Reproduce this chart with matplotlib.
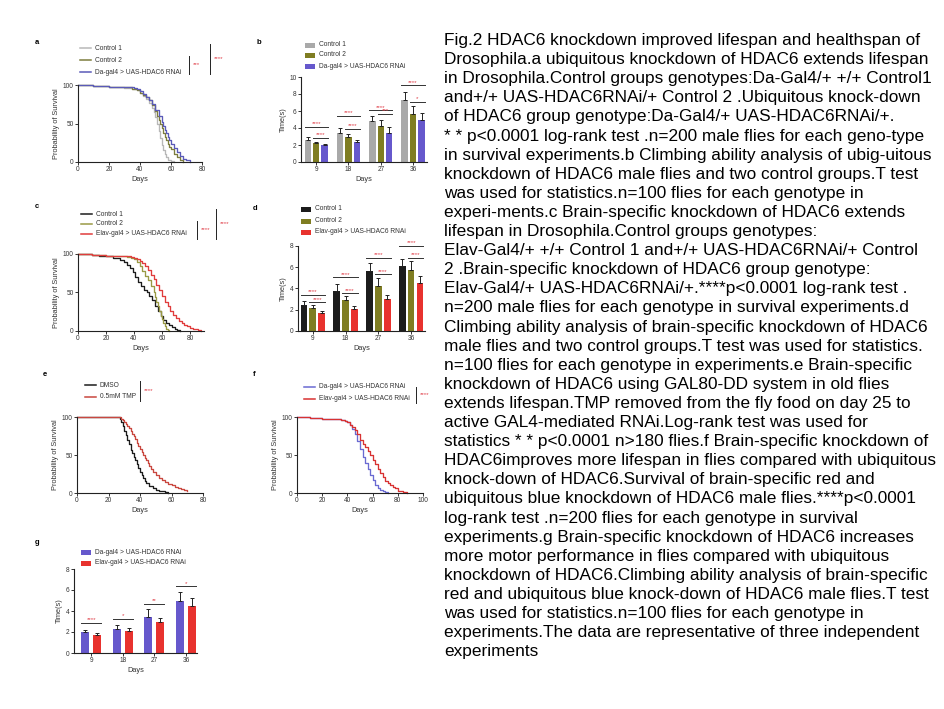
import matplotlib
matplotlib.use("Agg")
import matplotlib.pyplot as plt
from matplotlib.lines import Line2D
from matplotlib.patches import Rectangle
import numpy as np

plt.rcParams['font.family'] = ['Liberation Sans', 'DejaVu Sans']

# --- данные: кривые выживания (день, % живых) ---
a_c1_days = [0, 10, 20, 25, 30, 35, 38, 40, 42, 44, 46, 48, 49, 50, 51, 52, 53, 54, 55, 56, 57, 58, 60, 62]
a_c1_surv = [100, 99, 98, 97, 96, 95, 93, 90, 86, 82, 77, 70, 65, 58, 50, 40, 31, 22, 15, 10, 6, 3, 1, 0]
a_c2_days = [0, 10, 20, 30, 35, 38, 40, 42, 44, 46, 48, 50, 51, 52, 53, 54, 55, 56, 57, 58, 59, 60, 62, 64, 66, 68]
a_c2_surv = [100, 99, 98, 97, 95, 93, 90, 87, 84, 80, 74, 66, 60, 54, 49, 44, 38, 33, 28, 24, 20, 17, 11, 6, 2, 0]
a_da_days = [0, 10, 20, 30, 36, 38, 40, 42, 44, 46, 48, 50, 52, 54, 55, 56, 57, 58, 59, 60, 62, 64, 66, 68, 70, 72]
a_da_surv = [100, 99, 98, 97, 96, 95, 92, 88, 84, 80, 75, 68, 60, 52, 47, 42, 38, 33, 28, 24, 18, 13, 8, 4, 2, 0]

c_c1_days = [0, 10, 15, 20, 25, 30, 33, 35, 37, 39, 41, 43, 45, 47, 49, 51, 53, 55, 57, 59, 61, 63, 65, 67, 69, 71, 73]
c_c1_surv = [100, 99, 98, 97, 95, 92, 90, 86, 82, 76, 70, 64, 58, 53, 50, 46, 40, 33, 26, 20, 14, 11, 8, 5, 3, 1, 0]
c_c2_days = [0, 10, 20, 30, 35, 38, 40, 42, 44, 46, 48, 50, 52, 54, 55, 56, 57, 58, 59, 60, 61, 62, 63, 64, 65]
c_c2_surv = [100, 99, 98, 97, 96, 95, 93, 90, 85, 78, 72, 66, 58, 50, 44, 38, 32, 26, 20, 15, 10, 6, 3, 1, 0]
c_el_days = [0, 10, 20, 30, 35, 38, 40, 42, 44, 46, 48, 50, 52, 54, 56, 58, 60, 62, 64, 66, 68, 70, 72, 74, 76, 78, 80, 82, 84, 86, 88]
c_el_surv = [100, 99, 98, 98, 97, 96, 95, 93, 91, 88, 84, 79, 73, 67, 60, 53, 45, 38, 32, 26, 21, 17, 13, 10, 8, 6, 4, 3, 2, 1, 0]

e_dmso_days = [0, 26, 27, 28, 29, 30, 31, 32, 33, 34, 35, 36, 37, 38, 39, 40, 41, 42, 43, 44, 46, 48, 50, 52, 54, 56, 58]
e_dmso_surv = [100, 100, 97, 93, 88, 82, 76, 70, 64, 57, 52, 47, 43, 38, 33, 28, 24, 20, 16, 13, 9, 6, 4, 3, 2, 1, 0]
e_tmp_days = [0, 27, 28, 29, 30, 31, 32, 33, 34, 35, 36, 37, 38, 39, 40, 41, 42, 43, 44, 45, 46, 47, 48, 50, 52, 54, 56, 58, 60, 62, 64, 66, 68, 70]
e_tmp_surv = [100, 100, 98, 96, 94, 91, 88, 85, 82, 78, 75, 71, 66, 62, 58, 54, 50, 46, 43, 39, 35, 32, 28, 24, 20, 17, 14, 12, 10, 8, 6, 5, 4, 3]

f_da_days = [0, 5, 10, 15, 20, 25, 30, 35, 38, 40, 42, 44, 46, 48, 50, 52, 54, 56, 58, 60, 62, 64, 66, 68, 70, 72]
f_da_surv = [100, 99.5, 99, 98.5, 98, 97.5, 97, 96.5, 95, 93, 89, 84, 77, 68, 58, 48, 40, 32, 24, 17, 11, 7, 4, 2, 1, 0]
f_el_days = [0, 5, 10, 15, 20, 25, 30, 35, 38, 40, 42, 44, 46, 48, 50, 52, 54, 56, 58, 60, 62, 64, 66, 68, 70, 72, 74, 76, 78, 80, 82, 84, 87]
f_el_surv = [100, 99.5, 99, 98.5, 98, 97.5, 97, 96.5, 95, 93, 90, 87, 83, 78, 70, 64, 60, 55, 50, 44, 38, 32, 26, 21, 16, 13, 10, 8, 6, 3, 2, 1, 0]

# --- данные: тест на подъём (время, с) ---
days_cat = ["9", "18", "27", "36"]
b_c1 = [2.6, 3.4, 4.8, 7.3]
b_c1_err = [0.35, 0.55, 0.6, 0.9]
b_c2 = [2.2, 2.9, 4.2, 5.7]
b_c2_err = [0.2, 0.35, 0.8, 0.9]
b_da = [2.0, 2.3, 3.4, 5.0]
b_da_err = [0.15, 0.3, 0.75, 0.75]
b_sig_all = [4.15, 5.45, 6.1, 9.05]
b_sig_all_lab = ["****", "****", "****", "****"]
b_sig_two = [2.85, 3.9, 5.7, 7.1]
b_sig_two_lab = ["****", "****", "***", "*"]

d_c1 = [2.4, 3.8, 5.6, 6.1]
d_c1_err = [0.4, 0.6, 0.8, 0.7]
d_c2 = [2.2, 2.9, 4.2, 5.7]
d_c2_err = [0.25, 0.4, 0.8, 0.9]
d_el = [1.7, 2.1, 3.0, 4.5]
d_el_err = [0.2, 0.25, 0.35, 0.7]
d_sig_all = [3.4, 5.05, 6.9, 8.0]
d_sig_two = [2.7, 3.55, 5.35, 6.9]

g_da = [2.0, 2.3, 3.4, 5.0]
g_da_err = [0.2, 0.35, 0.75, 0.8]
g_el = [1.7, 2.1, 3.0, 4.5]
g_el_err = [0.2, 0.25, 0.35, 0.7]
g_sig = [2.9, 3.25, 4.7, 6.35]
g_sig_lab = ["****", "*", "**", "*"]

caption = [
    "Fig.2 HDAC6 knockdown improved lifespan and healthspan of",
    "Drosophila.a ubiquitous knockdown of HDAC6 extends lifespan",
    "in Drosophila.Control groups genotypes:Da-Gal4/+ +/+ Control1",
    "and+/+ UAS-HDAC6RNAi/+ Control 2 .Ubiquitous knock-down",
    "of HDAC6 group genotype:Da-Gal4/+ UAS-HDAC6RNAi/+.",
    "* * p<0.0001 log-rank test .n=200 male flies for each geno-type",
    "in survival experiments.b Climbing ability analysis of ubig-uitous",
    "knockdown of HDAC6 male flies and two control groups.T test",
    "was used for statistics.n=100 flies for each genotype in",
    "experi-ments.c Brain-specific knockdown of HDAC6 extends",
    "lifespan in Drosophila.Control groups genotypes:",
    "Elav-Gal4/+ +/+ Control 1 and+/+ UAS-HDAC6RNAi/+ Control",
    "2 .Brain-specific knockdown of HDAC6 group genotype:",
    "Elav-Gal4/+ UAS-HDAC6RNAi/+.****p<0.0001 log-rank test .",
    "n=200 male flies for each genotype in survival experiments.d",
    "Climbing ability analysis of brain-specific knockdown of HDAC6",
    "male flies and two control groups.T test was used for statistics.",
    "n=100 flies for each genotype in experiments.e Brain-specific",
    "knockdown of HDAC6 using GAL80-DD system in old flies",
    "extends lifespan.TMP removed from the fly food on day 25 to",
    "active GAL4-mediated RNAi.Log-rank test was used for",
    "statistics * * p<0.0001 n>180 flies.f Brain-specific knockdown of",
    "HDAC6improves more lifespan in flies compared with ubiquitous",
    "knock-down of HDAC6.Survival of brain-specific red and",
    "ubiquitous blue knockdown of HDAC6 male flies.****p<0.0001",
    "log-rank test .n=200 flies for each genotype in survival",
    "experiments.g Brain-specific knockdown of HDAC6 increases",
    "more motor performance in flies compared with ubiquitous",
    "knockdown of HDAC6.Climbing ability analysis of brain-specific",
    "red and ubiquitous blue knock-down of HDAC6 male flies.T test",
    "was used for statistics.n=100 flies for each genotype in",
    "experiments.The data are representative of three independent",
    "experiments",
]

# цвета
GRAY = '#a9a9a9'
OLIVE = '#7f7d22'
BLUE = '#6658cc'
RED = '#e8322e'
BLACK = '#1c1c1c'
STAR = '#e0404a'
TXT = '#333333'

W, H = 945, 709
fig = plt.figure(figsize=(W / 100, H / 100), dpi=100)


def fx(x):
    return x / W


def fy(y):
    return 1 - y / H


def add_ax(l, t, r, b):
    return fig.add_axes([fx(l), fy(b), (r - l) / W, (b - t) / H])


def style(ax):
    ax.spines['top'].set_visible(False)
    ax.spines['right'].set_visible(False)
    for s in ['left', 'bottom']:
        ax.spines[s].set_linewidth(0.8)
        ax.spines[s].set_color('#222')
    ax.tick_params(labelsize=4.7, length=2, width=0.7, pad=1.2, colors=TXT)


def legend_rows(x, ys, labels, colors, kind='line'):
    for y, lab, c in zip(ys, labels, colors):
        if kind == 'line':
            fig.add_artist(Line2D([fx(x), fx(x + 11)], [fy(y), fy(y)], color=c, lw=1.1))
            tx = x + 15
        else:
            fig.add_artist(Rectangle((fx(x), fy(y + 2.5)), 10 / W, 5 / H, color=c, lw=0))
            tx = x + 14
        fig.text(fx(tx), fy(y), lab, fontsize=4.8, va='center', ha='left', color=TXT)


def bracket(x, y1, y2, lab):
    fig.add_artist(Line2D([fx(x), fx(x)], [fy(y1), fy(y2)], color='#222', lw=0.7))
    fig.text(fx(x + 4), fy((y1 + y2) / 2), lab, fontsize=4.5, color=STAR, va='center', ha='left')


def survival(ax, curves, xmax, xticks):
    for d, s, c in curves:
        ax.step(d, s, where='post', color=c, lw=0.95, clip_on=False)
    ax.set_xlim(0, xmax)
    ax.set_ylim(0, 100)
    ax.set_xticks(xticks)
    ax.set_yticks([0, 50, 100])
    style(ax)
    ax.set_xlabel('Days', fontsize=5.3, labelpad=2, color=TXT)
    ax.set_ylabel('Probability of Survival', fontsize=5.3, labelpad=2, color=TXT)


def sig(ax, x1, x2, y, lab):
    ax.plot([x1, x2], [y, y], color='#333', lw=0.7, clip_on=False)
    ax.text((x1 + x2) / 2, y + 0.05, lab, fontsize=4.5, color=STAR, ha='center', va='bottom')


def bar_style(ax, ymax, xlim):
    ax.set_ylim(0, ymax)
    ax.set_yticks(np.arange(0, ymax + 1, 2))
    ax.set_xlim(*xlim)
    ax.set_xticks(range(len(days_cat)))
    ax.set_xticklabels(days_cat)
    style(ax)
    ax.set_xlabel('Days', fontsize=5.3, labelpad=2, color=TXT)
    ax.set_ylabel('Time(s)', fontsize=5.3, labelpad=2, color=TXT)


x = np.arange(len(days_cat))
ekw = dict(elinewidth=0.7, capsize=1.4, capthick=0.7, ecolor='#222')

# --- a ---
ax = add_ax(78, 85, 202, 162)
survival(ax, [(a_c1_days, a_c1_surv, '#b8b8b8'), (a_c2_days, a_c2_surv, '#7d7d3e'),
              (a_da_days, a_da_surv, '#5a5ab8')], 80, [0, 20, 40, 60, 80])
legend_rows(80, [48, 60, 72], ['Control 1', 'Control 2', 'Da-gal4 > UAS-HDAC6 RNAi'],
            ['#b8b8b8', '#7d7d3e', '#5a5ab8'])
bracket(189, 56, 74, '***')
bracket(210, 44, 74, '****')

# --- b ---
ax = add_ax(301, 77, 427, 162)
w, off = 0.2, 0.26
ax.bar(x - off, b_c1, w, color=GRAY, yerr=[np.zeros(4), b_c1_err], error_kw=ekw)
ax.bar(x, b_c2, w, color=OLIVE, yerr=[np.zeros(4), b_c2_err], error_kw=ekw)
ax.bar(x + off, b_da, w, color=BLUE, yerr=[np.zeros(4), b_da_err], error_kw=ekw)
for i in range(4):
    sig(ax, i - off - w / 2, i + off + w / 2, b_sig_all[i], b_sig_all_lab[i])
    sig(ax, i - w / 2, i + off + w / 2, b_sig_two[i], b_sig_two_lab[i])
bar_style(ax, 10, (-0.47, 3.43))
legend_rows(305, [45, 55, 66], ['Control 1', 'Control 2', 'Da-gal4 > UAS-HDAC6 RNAi'],
            [GRAY, OLIVE, BLUE], kind='rect')

# --- c ---
ax = add_ax(78, 254, 204, 331)
survival(ax, [(c_c1_days, c_c1_surv, BLACK), (c_c2_days, c_c2_surv, '#9a9a45'),
              (c_el_days, c_el_surv, '#e03c3c')], 90, [0, 20, 40, 60, 80])
legend_rows(81, [214, 224, 234], ['Control 1', 'Control 2', 'Elav-gal4 > UAS-HDAC6 RNAi'],
            [BLACK, '#9a9a45', '#e03c3c'])
bracket(197, 221, 239, '****')
bracket(216, 209, 239, '****')

# --- d ---
ax = add_ax(298, 246, 425, 331)
w, off = 0.2, 0.27
ax.bar(x - off, d_c1, w, color=BLACK, yerr=[np.zeros(4), d_c1_err], error_kw=ekw)
ax.bar(x, d_c2, w, color=OLIVE, yerr=[np.zeros(4), d_c2_err], error_kw=ekw)
ax.bar(x + off, d_el, w, color=RED, yerr=[np.zeros(4), d_el_err], error_kw=ekw)
for i in range(4):
    sig(ax, i - off - w / 2, i + off + w / 2, d_sig_all[i], '****')
    sig(ax, i - w / 2, i + off + w / 2, d_sig_two[i], '****')
bar_style(ax, 8, (-0.45, 3.42))
legend_rows(301, [209, 221, 232], ['Control 1', 'Control 2', 'Elav-gal4 > UAS-HDAC6 RNAi'],
            [BLACK, OLIVE, RED], kind='rect')

# --- e ---
ax = add_ax(77, 417, 203, 493)
survival(ax, [(e_dmso_days, e_dmso_surv, BLACK), (e_tmp_days, e_tmp_surv, '#c9473f')],
         80, [0, 20, 40, 60, 80])
legend_rows(85, [385, 397], ['DMSO', '0.5mM TMP'], [BLACK, '#c9473f'])
bracket(140, 381, 401, '****')

# --- f ---
ax = add_ax(297, 417, 423, 493)
survival(ax, [(f_da_days, f_da_surv, '#6a6ad2'), (f_el_days, f_el_surv, '#d83232')],
         100, [0, 20, 40, 60, 80, 100])
legend_rows(304, [387, 399], ['Da-gal4 > UAS-HDAC6 RNAi', 'Elav-gal4 > UAS-HDAC6 RNAi'],
            ['#6a6ad2', '#d83232'])
bracket(416, 387, 403, '****')

# --- g ---
ax = add_ax(74, 569, 197, 653)
w, off = 0.25, 0.19
ax.bar(x - off, g_da, w, color=BLUE, yerr=[np.zeros(4), g_da_err], error_kw=ekw)
ax.bar(x + off, g_el, w, color=RED, yerr=[np.zeros(4), g_el_err], error_kw=ekw)
for i in range(4):
    sig(ax, i - off - w / 2, i + off + w / 2, g_sig[i], g_sig_lab[i])
bar_style(ax, 8, (-0.55, 3.35))
legend_rows(81, [552, 563], ['Da-gal4 > UAS-HDAC6 RNAi', 'Elav-gal4 > UAS-HDAC6 RNAi'],
            [BLUE, RED], kind='rect')

# буквы панелей
for lab, (px, py) in zip('abcdefg', [(35, 43), (257, 43), (35, 207), (253, 208),
                                     (43, 375), (253, 375), (35, 543)]):
    fig.text(fx(px), fy(py), lab, fontsize=5.5, fontweight='bold', va='center', ha='left')

# подпись справа
for i, line in enumerate(caption):
    fig.text(fx(444), fy(45 + 19.1 * i), line, fontsize=12.4, va='baseline', ha='left', color='black')

fig.savefig('out.png', dpi=100)
